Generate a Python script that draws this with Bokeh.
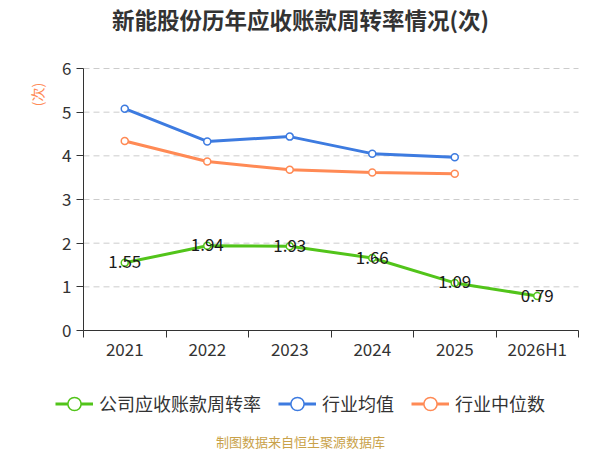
import numpy as np
from bokeh.plotting import figure
from bokeh.models import FixedTicker, Label, Legend, LegendItem, LinearAxis, Range1d
from bokeh.embed import file_html
from bokeh.resources import INLINE
from bokeh.core.properties import value

categories = ["2021", "2022", "2023", "2024", "2025", "2026H1"]
company = [1.55, 1.94, 1.93, 1.66, 1.09, 0.79]
industry_mean = [5.08, 4.33, 4.44, 4.05, 3.97]
industry_median = [4.34, 3.87, 3.68, 3.62, 3.59]
y_ticks = [0, 1, 2, 3, 4, 5, 6]

title_text = "新能股份历年应收账款周转率情况(次)"
unit_text = "(次)"
footer_text = "制图数据来自恒生聚源数据库"
names = ["公司应收账款周转率", "行业均值", "行业中位数"]

GREEN = "#52c41a"
BLUE = "#3d7be0"
ORANGE = "#ff8a55"
AXIS = "#333333"
FONT = "Noto Sans CJK SC"
W, H = 600, 450
# plot area in canvas pixels
PL, PR, PT, PB = 83, 578, 68, 330

ncat = len(categories)
ymax = y_ticks[-1]
kx = (PR - PL) / ncat
ky = (PB - PT) / ymax
xs = np.arange(ncat) + 0.5

# frame covers the whole canvas; axes are fixed inside it
p = figure(width=W, height=H, output_backend="svg", toolbar_location=None,
           x_range=Range1d(-PL / kx, ncat + (W - PR) / kx),
           y_range=Range1d(-(H - PB) / ky, ymax + PT / ky),
           x_axis_location=None, y_axis_location=None,
           min_border=0, background_fill_color="white", border_fill_color="white")
p.outline_line_color = None
p.title.visible = False
p.xgrid.visible = False
p.ygrid.visible = False

# dashed horizontal grid across the plot area
p.segment(x0=0, x1=ncat, y0=y_ticks[1:], y1=y_ticks[1:], line_color="#cccccc",
          line_width=1, line_dash="6 4")

xaxis = LinearAxis(fixed_location=0, bounds=(0, ncat),
                   ticker=FixedTicker(ticks=list(xs), minor_ticks=list(range(ncat + 1))),
                   major_label_overrides={float(x): c for x, c in zip(xs, categories)},
                   major_tick_line_color=None, major_tick_out=0, major_tick_in=0,
                   minor_tick_line_color=AXIS, minor_tick_out=7, minor_tick_in=0,
                   major_label_standoff=-2)
yaxis = LinearAxis(fixed_location=0, bounds=(0, ymax), ticker=FixedTicker(ticks=y_ticks),
                   minor_tick_line_color=None, major_tick_line_color=AXIS,
                   major_tick_out=7, major_tick_in=0, major_label_standoff=5)
for ax in (xaxis, yaxis):
    ax.axis_line_color = AXIS
    ax.major_label_text_font = FONT
    ax.major_label_text_font_size = "17px"
    ax.major_label_text_color = AXIS
p.add_layout(xaxis, "below")
p.add_layout(yaxis, "left")

# series
n = len(industry_mean)
bl = p.line(xs[:n], industry_mean, line_color=BLUE, line_width=3)
bs = p.scatter(xs[:n], industry_mean, size=7, fill_color="white", line_color=BLUE, line_width=1.5)
ol = p.line(xs[:n], industry_median, line_color=ORANGE, line_width=3)
os_ = p.scatter(xs[:n], industry_median, size=7, fill_color="white", line_color=ORANGE, line_width=1.5)
gl = p.line(xs, company, line_color=GREEN, line_width=3)
gs = p.scatter(xs, company, size=7, fill_color="white", line_color=GREEN, line_width=1.5)

p.text(x=xs, y=company, text=[f"{v:.2f}" for v in company], text_align="center",
       text_baseline="middle", y_offset=-1, text_font=value(FONT), text_font_size="17px",
       text_color="#1a1a1a")

legend = Legend(items=[LegendItem(label=names[0], renderers=[gl, gs]),
                       LegendItem(label=names[1], renderers=[bl, bs]),
                       LegendItem(label=names[2], renderers=[ol, os_])],
                orientation="horizontal", location=(55, H - 419.5), margin=0, padding=0,
                glyph_width=38, glyph_height=33, label_standoff=6, spacing=17,
                label_text_font=FONT, label_text_font_size="18px",
                label_text_color=AXIS, border_line_color=None,
                background_fill_alpha=0)
p.add_layout(legend, "center")

# screen units: canvas pixels from the bottom-left corner
p.add_layout(Label(x=300, y=H - 18, x_units="screen", y_units="screen",
                   text=title_text, text_align="center", text_baseline="middle",
                   text_font=FONT, text_font_size="22.5px", text_font_style="bold",
                   text_color=AXIS))
p.add_layout(Label(x=36.5, y=H - 94, x_units="screen", y_units="screen",
                   text=unit_text, angle=np.pi / 2, text_align="center",
                   text_baseline="middle", text_font=FONT, text_font_size="14px",
                   text_color=ORANGE))
p.add_layout(Label(x=300, y=H - 441, x_units="screen", y_units="screen",
                   text=footer_text, text_align="center", text_baseline="middle",
                   text_font=FONT, text_font_size="13px", text_color="#c9a24a"))

open("out.html", "w").write(file_html(p, INLINE))
